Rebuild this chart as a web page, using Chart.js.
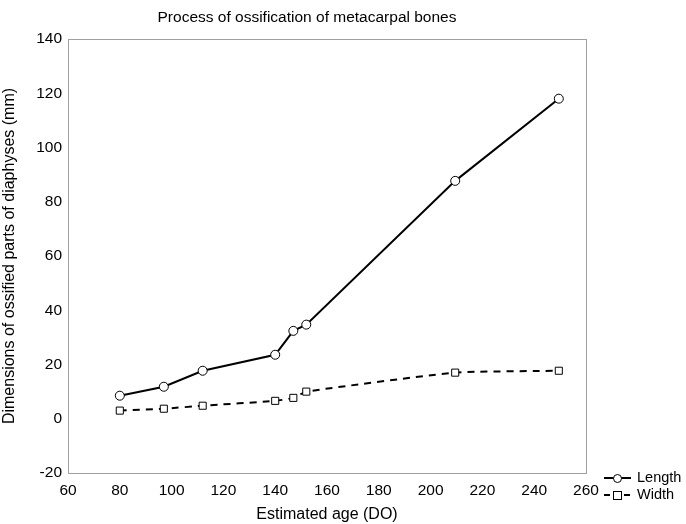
<!DOCTYPE html>
<html>
<head>
<meta charset="utf-8">
<script src="https://cdn.jsdelivr.net/npm/chart.js@4.4.1/dist/chart.umd.min.js"></script>
<style>
html,body{margin:0;padding:0;background:#fff;}
#wrap{width:686px;height:524px;position:relative;}
</style>
</head>
<body>
<div id="wrap"><canvas id="c" width="686" height="524"></canvas></div>
<script>
const chartTitle = "Process of ossification of metacarpal bones";
const xTitle = "Estimated age (DO)";
const yTitle = "Dimensions of ossified parts of diaphyses (mm)";
const seriesNames = ["Length", "Width"];
const ages = [80, 97, 112, 140, 147, 152, 209.5, 249.5];
const lengthValues = [8.5, 11.8, 17.7, 23.6, 32.4, 34.7, 87.7, 118];
const widthValues = [3.0, 3.7, 4.8, 6.6, 7.7, 10.0, 17.0, 17.7];
const xTicks = [60, 80, 100, 120, 140, 160, 180, 200, 220, 240, 260];
const yTicks = [-20, 0, 20, 40, 60, 80, 100, 120, 140];

const FONT = "'Liberation Sans', Arial, sans-serif";

const framePlugin = {
  id: 'frame',
  afterDatasetsDraw(chart) {
    const {ctx, chartArea: a} = chart;
    ctx.save();
    ctx.strokeStyle = '#a0a0a0';
    ctx.lineWidth = 1;
    ctx.strokeRect(Math.round(a.left) + 0.5, Math.round(a.top) + 0.5, Math.round(a.right - a.left), Math.round(a.bottom - a.top));
    ctx.restore();
  },
  afterDraw(chart) {
    const {ctx} = chart;
    ctx.save();
    ctx.fillStyle = '#000';
    ctx.font = "15.5px " + FONT;
    ctx.textAlign = 'center';
    ctx.textBaseline = 'middle';
    ctx.fillText(chartTitle, 307, 18);
    // legend
    const items = chart.data.datasets;
    const ys = [478, 495];
    items.forEach((ds, i) => {
      const y = ys[i];
      ctx.strokeStyle = '#000';
      ctx.lineWidth = 2;
      ctx.setLineDash(ds.borderDash ? [6, 4] : []);
      ctx.beginPath();
      ctx.moveTo(604, y);
      ctx.lineTo(631, y);
      ctx.stroke();
      ctx.setLineDash([]);
      ctx.lineWidth = 1;
      ctx.fillStyle = '#fff';
      if (ds.pointStyle === 'rect') {
        ctx.fillRect(613.5, y - 3.5, 8, 8);
        ctx.strokeRect(613.5, y - 3.5, 8, 8);
      } else {
        ctx.beginPath();
        ctx.arc(617.5, y + 0.5, 4, 0, Math.PI * 2);
        ctx.fill();
        ctx.stroke();
      }
      ctx.fillStyle = '#000';
      ctx.font = "14.5px " + FONT;
      ctx.textAlign = 'left';
      ctx.fillText(ds.label, 637, y);
    });
    ctx.restore();
  }
};

new Chart(document.getElementById('c'), {
  type: 'line',
  data: {
    datasets: [
      {
        label: seriesNames[0],
        data: ages.map((a, i) => ({x: a, y: lengthValues[i]})),
        borderColor: '#000',
        borderWidth: 2,
        pointStyle: 'circle',
        pointRadius: 4.5,
        pointBackgroundColor: '#fff',
        pointBorderColor: '#000',
        pointBorderWidth: 1,
        tension: 0
      },
      {
        label: seriesNames[1],
        data: ages.map((a, i) => ({x: a, y: widthValues[i]})),
        borderColor: '#000',
        borderWidth: 2,
        borderDash: [7, 6],
        pointStyle: 'rect',
        pointRadius: 5,
        pointBackgroundColor: '#fff',
        pointBorderColor: '#000',
        pointBorderWidth: 1,
        tension: 0.15
      }
    ]
  },
  options: {
    responsive: false,
    animation: false,
    devicePixelRatio: 1,
    layout: {padding: {left: 0, right: 100, top: 39, bottom: 0}},
    plugins: {legend: {display: false}, title: {display: false}, tooltip: {enabled: false}},
    scales: {
      x: {
        type: 'linear',
        min: 60, max: 260,
        afterBuildTicks(axis) { axis.ticks = xTicks.map(v => ({value: v})); },
        afterFit(axis) { axis.height = 51; },
        grid: {display: false, drawTicks: false},
        border: {display: false},
        ticks: {color: '#000', font: {family: FONT, size: 15.5}, padding: 8, maxRotation: 0, autoSkip: false},
        title: {display: true, text: xTitle, color: '#000', font: {family: FONT, size: 16}, padding: {top: 4, bottom: 0}}
      },
      y: {
        type: 'linear',
        min: -20, max: 140,
        afterBuildTicks(axis) { axis.ticks = yTicks.map(v => ({value: v})); },
        afterFit(axis) { axis.width = 68; },
        grid: {display: false, drawTicks: false},
        border: {display: false},
        ticks: {color: '#000', font: {family: FONT, size: 15.5}, padding: 6, autoSkip: false},
        title: {display: true, text: yTitle, color: '#000', font: {family: FONT, size: 16}, padding: {top: 0, bottom: 4}}
      }
    }
  },
  plugins: [framePlugin]
});
</script>
</body>
</html>
